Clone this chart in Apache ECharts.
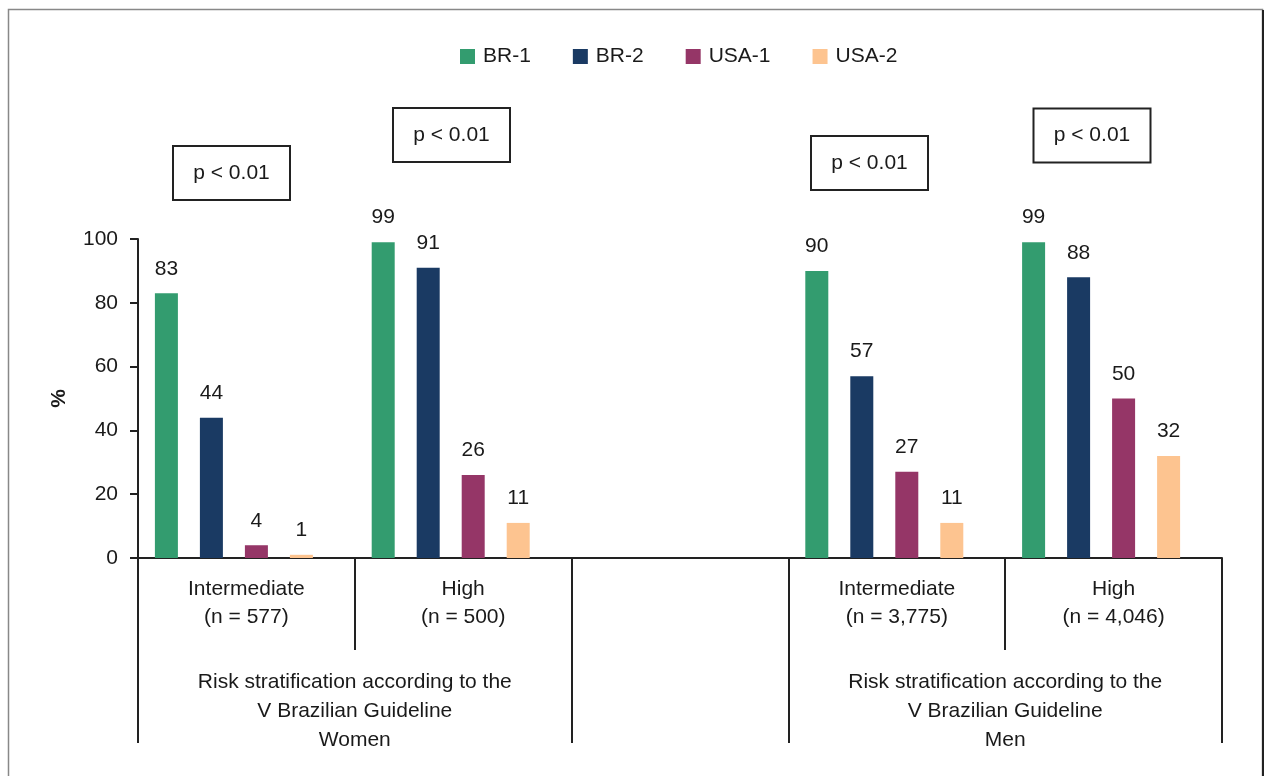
<!DOCTYPE html>
<html>
<head>
<meta charset="utf-8">
<script src="https://cdn.jsdelivr.net/npm/echarts@6/dist/echarts.min.js"></script>
<style>
html,body{margin:0;padding:0;background:#fff;}
#chart{width:1269px;height:776px;}
</style>
</head>
<body>
<div id="chart"></div>
<script>
const categories = ["Intermediate\n(n = 577)", "High\n(n = 500)", "", "Intermediate\n(n = 3,775)", "High\n(n = 4,046)"];
const groupLabels = ["Risk stratification according to the\nV Brazilian Guideline\nWomen", "Risk stratification according to the\nV Brazilian Guideline\nMen"];
const seriesNames = ["BR-1", "BR-2", "USA-1", "USA-2"];
const br1 = [83, 99, null, 90, 99];
const br2 = [44, 91, null, 57, 88];
const usa1 = [4, 26, null, 27, 50];
const usa2 = [1, 11, null, 11, 32];
const pLabel = "p < 0.01";
const yTicks = [0, 20, 40, 60, 80, 100];

const colors = ["#339C6F", "#1A3A63", "#953667", "#FDC490"];
const FONT = "'Liberation Sans', Arial, sans-serif";
const FS = 21;
const TXT = "#1a1a1a";
const AX = "#222";

const chart = echarts.init(document.getElementById('chart'));

function barSeries(name, data, color) {
  return {
    name: name, type: 'bar', data: data, barWidth: 23, barGap: '95.65%',
    itemStyle: { color: color },
    label: { show: true, position: 'top', distance: 14, fontFamily: FONT, fontSize: FS, color: TXT }
  };
}

const series = [
  barSeries(seriesNames[0], br1, colors[0]),
  barSeries(seriesNames[1], br2, colors[1]),
  barSeries(seriesNames[2], usa1, colors[2]),
  barSeries(seriesNames[3], usa2, colors[3]),
  { name: 'spacer', type: 'bar', data: categories.map(() => null), barWidth: 3, barGap: '95.65%',
    itemStyle: { color: 'transparent' }, silent: true }
];

function pBox(cx, cy) {
  return {
    type: 'rect',
    shape: { x: cx - 58.5, y: cy - 27, width: 117, height: 54 },
    style: { fill: '#fff', stroke: AX, lineWidth: 2 },
    textContent: { style: { text: pLabel, font: FS + 'px ' + FONT, fill: TXT } },
    textConfig: { position: 'inside' }
  };
}

chart.setOption({
  animation: false,
  backgroundColor: '#fff',
  legend: {
    data: seriesNames,
    left: 455, top: 41,
    itemWidth: 15, itemHeight: 15, itemGap: 42,
    icon: 'rect',
    textStyle: { fontFamily: FONT, fontSize: FS, color: TXT, padding: [0, 0, 0, 3] }
  },
  grid: { left: 138, right: 47, top: 239, bottom: 218, containLabel: false },
  xAxis: [
    {
      type: 'category', data: categories, position: 'bottom',
      axisLine: { show: true, lineStyle: { color: AX, width: 2 } },
      axisTick: { show: true, interval: 0, length: 92, lineStyle: { color: AX, width: 2 } },
      axisLabel: { interval: 0, margin: 17, fontFamily: FONT, fontSize: FS, color: TXT, lineHeight: 28 },
      splitLine: { show: false }
    },
    {
      type: 'value', min: 0, max: 5, position: 'bottom',
      axisLine: { show: false },
      axisTick: { show: true, length: 185, customValues: [0, 2, 3, 5], lineStyle: { color: AX, width: 2 } },
      axisLabel: {
        customValues: [1, 4], margin: 110, fontFamily: FONT, fontSize: FS, color: TXT, lineHeight: 29,
        formatter: function (v) { return v === 1 ? groupLabels[0] : (v === 4 ? groupLabels[1] : ''); }
      },
      splitLine: { show: false }
    }
  ],
  yAxis: {
    type: 'value', min: yTicks[0], max: yTicks[yTicks.length - 1], interval: 20,
    name: '%', nameLocation: 'middle', nameGap: 68, nameRotate: 90,
    nameTextStyle: { fontFamily: FONT, fontSize: FS, fontWeight: 'bold', color: TXT },
    axisLine: { show: true, lineStyle: { color: AX, width: 2 } },
    axisTick: { show: true, inside: false, length: 8, lineStyle: { color: AX, width: 2 } },
    axisLabel: { margin: 20, fontFamily: FONT, fontSize: FS, color: TXT, padding: [4, 0, 0, 0] },
    splitLine: { show: false }
  },
  series: series,
  graphic: [
    { type: 'rect', shape: { x: 8.5, y: 9.5, width: 1254, height: 800 }, style: { fill: 'none', stroke: '#888', lineWidth: 1.5 }, silent: true, z: -1 },
    { type: 'line', shape: { x1: 1263, y1: 10, x2: 1263, y2: 776 }, style: { stroke: '#222', lineWidth: 2 }, silent: true },
    pBox(231.5, 173),
    pBox(451.5, 135),
    pBox(869.5, 163),
    pBox(1092, 135.5)
  ]
});
</script>
</body>
</html>
